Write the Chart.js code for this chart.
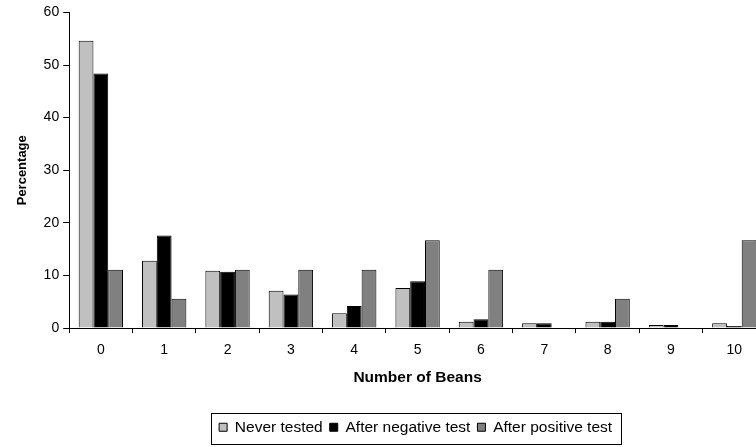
<!DOCTYPE html>
<html>
<head>
<meta charset="utf-8">
<script src="https://cdn.jsdelivr.net/npm/chart.js@4.4.1/dist/chart.umd.min.js"></script>
<style>
  html, body { margin: 0; padding: 0; background: #fff; overflow: hidden; }
  #wrap { width: 831px; height: 447px; }
</style>
</head>
<body>
<div id="wrap"><canvas id="beans"></canvas></div>
<script>
var beans = ["0", "1", "2", "3", "4", "5", "6", "7", "8", "9", "10"];
var neverTested = [54.6, 12.8, 10.9, 7.1, 2.8, 7.6, 1.2, 0.9, 1.2, 0.6, 0.9];
var afterNegative = [48.4, 17.6, 10.7, 6.4, 4.2, 8.9, 1.7, 0.9, 1.2, 0.6, 0.4];
var afterPositive = [11.1, 5.6, 11.1, 11.1, 11.1, 16.7, 11.1, 0, 5.6, 0, 16.7];

Chart.defaults.font.family = "'Liberation Sans', Arial, sans-serif";
Chart.defaults.color = "#000";

// legend centred under the plot area, with a box round it
var legendBox = {
    id: 'legendBox',
    afterLayout: function (chart) {
        var lg = chart.legend;
        var ca = chart.chartArea;
        var shift = (ca.left + ca.right) / 2 - 2 - (lg.left + lg.right) / 2;
        lg.left += shift;
        lg.right += shift;
    },
    afterDraw: function (chart) {
        var lg = chart.legend;
        if (!lg || !lg.lineWidths) return;
        var p = lg.options.labels.padding;
        var lw = lg.lineWidths[0];
        var xs = (lg.left + p + lg.right - lw) / 2;
        var x0 = Math.round(xs - 8) + 0.5;
        var x1 = Math.round(xs + lw - p + 9) + 0.5;
        var y0 = Math.round(lg.top) + 0.5;
        var y1 = Math.round(lg.bottom) - 0.5;
        var ctx = chart.ctx;
        ctx.save();
        ctx.strokeStyle = "#000";
        ctx.lineWidth = 1;
        ctx.strokeRect(x0, y0, x1 - x0, y1 - y0);
        ctx.restore();
    }
};

var ctx = document.getElementById('beans');
new Chart(ctx, {
    type: 'bar',
    data: {
        labels: beans,
        datasets: [{
            label: "Never tested",
            data: neverTested,
            backgroundColor: "#c0c0c0",
            borderColor: "#000",
            borderWidth: 1
        }, {
            label: "After negative test",
            data: afterNegative,
            backgroundColor: "#000",
            borderColor: "#000",
            borderWidth: 1
        }, {
            label: "After positive test",
            data: afterPositive,
            backgroundColor: "#808080",
            borderColor: "#000",
            borderWidth: 1
        }]
    },
    options: {
        responsive: true,
        maintainAspectRatio: false,
        animation: false,
        datasets: {
            bar: {
                categoryPercentage: 0.7,
                barPercentage: 1.0
            }
        },
        layout: {
            padding: { top: 0, right: 65, bottom: 2, left: 15 }
        },
        scales: {
            x: {
                grid: {
                    drawOnChartArea: false,
                    drawTicks: true,
                    tickLength: 5,
                    color: "#000"
                },
                border: { color: "#000", width: 1 },
                ticks: { font: { size: 14 }, padding: 9 },
                title: {
                    display: true,
                    text: "Number of Beans",
                    font: { size: 15.5, weight: 'bold' },
                    padding: { top: 1, bottom: 25 }
                }
            },
            y: {
                min: 0,
                max: 60,
                grid: {
                    drawOnChartArea: false,
                    drawTicks: true,
                    tickLength: 6,
                    color: "#000"
                },
                border: { color: "#000", width: 1 },
                ticks: { stepSize: 10, font: { size: 14 }, padding: 4 },
                title: {
                    display: true,
                    text: "Percentage",
                    font: { size: 13, weight: 'bold' },
                    padding: { top: 0, bottom: 9 }
                }
            }
        },
        plugins: {
            title: { display: false },
            tooltip: { enabled: false },
            legend: {
                display: true,
                position: 'bottom',
                labels: {
                    boxWidth: 8,
                    boxHeight: 8,
                    padding: 7,
                    font: { size: 15.5 }
                }
            }
        }
    },
    plugins: [legendBox]
});
</script>
</body>
</html>
